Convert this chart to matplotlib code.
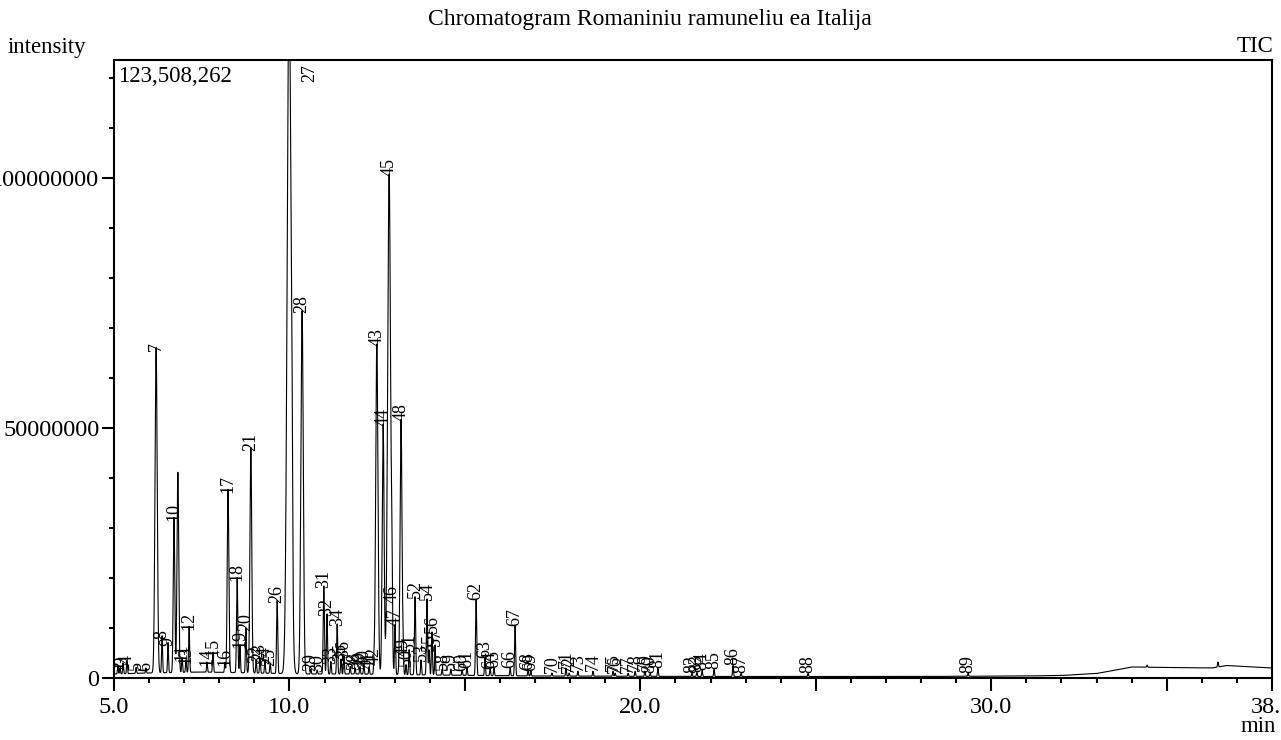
import numpy as np
import matplotlib.pyplot as plt
from matplotlib.ticker import FixedLocator, FixedFormatter, MultipleLocator

plt.rcParams['font.family'] = ['Liberation Serif', 'DejaVu Serif']

# peak table (rt in min, height in 1e6 counts)
peak_no = [str(i) for i in range(1, 90)]
peak_rt = [5.11, 5.17, 5.26, 5.37, 5.63, 5.91, 6.20, 6.37, 6.54, 6.71,
           6.94, 7.14, 7.05, 7.65, 7.82, 8.16, 8.25, 8.51, 8.59, 8.76,
           8.90, 9.05, 9.16, 9.30, 9.45, 9.65, 9.99, 10.36, 10.61, 10.79,
           10.98, 11.07, 11.18, 11.36, 11.47, 11.55, 11.73, 11.87, 12.01, 12.12,
           12.27, 12.41, 12.49, 12.67, 12.84, 12.92, 13.01, 13.18, 13.24, 13.32,
           13.41, 13.58, 13.75, 13.92, 13.98, 14.06, 14.15, 14.35, 14.60, 14.92,
           15.06, 15.32, 15.57, 15.72, 15.83, 16.29, 16.43, 16.80, 16.88, 17.48,
           17.88, 17.97, 18.22, 18.65, 19.22, 19.28, 19.65, 19.85, 20.13, 20.28,
           20.50, 21.47, 21.61, 21.76, 22.10, 22.64, 22.87, 24.78, 29.34]
peak_height = [1.5, 1.2, 2.2, 2.5, 1.2, 1.0, 65.0, 7.4, 6.0, 31.0,
               3.0, 9.2, 2.5, 2.0, 4.0, 2.0, 36.6, 19.0, 5.6, 9.0,
               45.0, 2.6, 3.0, 2.5, 2.0, 14.6, 140.0, 72.6, 1.0, 0.8,
               17.6, 12.0, 2.5, 10.0, 3.0, 3.6, 1.5, 1.2, 1.5, 1.8,
               1.5, 2.2, 66.0, 50.0, 100.0, 14.6, 10.0, 51.0, 4.0, 2.0,
               5.0, 15.6, 3.0, 15.2, 5.0, 8.6, 6.0, 1.2, 1.2, 1.0,
               1.6, 15.2, 3.6, 1.5, 1.6, 1.6, 10.0, 1.2, 1.0, 0.6,
               1.6, 0.6, 1.0, 1.0, 1.0, 0.6, 0.6, 1.0, 1.0, 0.6,
               1.6, 0.6, 0.8, 1.2, 1.4, 2.2, 0.6, 0.6, 0.6]

# unlabelled peaks / spikes
extra_rt = [6.82, 10.07, 34.44, 36.46]
extra_height = [40.0, 22.6, 0.4, 1.0]

# baseline drift (1e6 counts)
baseline_rt = [5.0, 6.0, 7.5, 9.0, 10.5, 12.0, 14.0, 17.0, 22.0, 28.0,
               31.0, 32.0, 33.0, 34.0, 35.0, 36.3, 36.7, 38.0]
baseline_level = [0.8, 1.0, 1.2, 1.0, 0.8, 0.8, 0.6, 0.4, 0.3, 0.3,
                  0.4, 0.5, 0.9, 2.2, 2.1, 2.0, 2.5, 2.0]

y_top = 123508262

t = np.arange(5.0, 38.0005, 0.002)
signal = np.interp(t, baseline_rt, baseline_level) * 1e6
for rt, h in zip(peak_rt + extra_rt, peak_height + extra_height):
    s = 0.012 + 0.0003 * h
    signal += h * 1e6 * np.exp(-0.5 * ((t - rt) / s) ** 2)

fig = plt.figure(figsize=(12.81, 7.40), dpi=100)
ax = fig.add_axes([114 / 1281, 62 / 740, 1158 / 1281, 618 / 740])
ax.plot(t, signal, color='black', lw=0.8)

for lab, rt, h in zip(peak_no, peak_rt, peak_height):
    if h * 1e6 > y_top:
        # off-scale peak: label pinned to the top of the frame
        ax.text(10.58, y_top - 0.8e6, lab, rotation=90, ha='center', va='top', fontsize=13)
    else:
        ax.text(rt, h * 1e6 + 0.3e6, lab, rotation=90, ha='center', va='bottom',
                fontsize=13, clip_on=True)

ax.set_xlim(5.0, 38.0)
ax.set_ylim(0, y_top)

ax.xaxis.set_major_locator(FixedLocator([5, 10, 15, 20, 25, 30, 35, 38]))
ax.xaxis.set_major_formatter(FixedFormatter(['5.0', '10.0', '', '20.0', '', '30.0', '', '38.0']))
ax.xaxis.set_minor_locator(MultipleLocator(1))
ax.yaxis.set_major_locator(FixedLocator([0, 50000000, 100000000]))
ax.yaxis.set_major_formatter(FixedFormatter(['0', '50000000', '100000000']))
ax.yaxis.set_minor_locator(MultipleLocator(10000000))

ax.tick_params(which='major', direction='out', length=9, width=1.5, labelsize=17.5, colors='black')
ax.tick_params(axis='x', which='major', pad=5)
ax.tick_params(axis='y', which='major', pad=1.5)
ax.tick_params(which='minor', direction='out', length=3.5, width=1.5)
for sp in ax.spines.values():
    sp.set_linewidth(1.5)

fig.text(650 / 1281, 1 - 19 / 740, 'Chromatogram Romaniniu ramuneliu ea Italija',
         ha='center', va='center', fontsize=17)
fig.text(8 / 1281, 1 - 47 / 740, 'intensity', ha='left', va='center', fontsize=16.5)
fig.text(1273 / 1281, 1 - 47 / 740, 'TIC', ha='right', va='center', fontsize=16.5)
fig.text(118 / 1281, 1 - 77 / 740, '123,508,262', ha='left', va='center', fontsize=16.5)
fig.text(1276 / 1281, 1 - 727 / 740, 'min', ha='right', va='center', fontsize=16.5)

fig.savefig('out.png', dpi=100)
